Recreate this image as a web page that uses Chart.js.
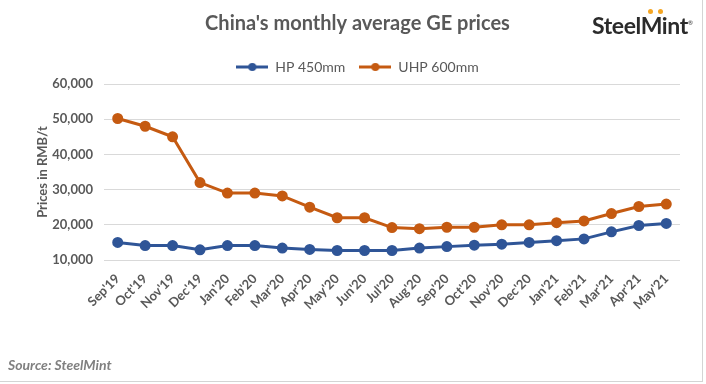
<!DOCTYPE html>
<html>
<head>
<meta charset="utf-8">
<script src="https://cdn.jsdelivr.net/npm/chart.js@4.4.0/dist/chart.umd.min.js"></script>
<style>
  body { margin: 0; background: #fff; }
  #wrap { position: relative; width: 706px; height: 384px; }
  #frame { position: absolute; left: 0; top: 0; width: 702px; height: 381px;
           border-right: 1px solid #d4d4d4; border-bottom: 1px solid #d4d4d4; }
  #logo { position: absolute; left: 592px; top: 11px; font-family: Lato, sans-serif;
          font-weight: bold; font-size: 23px; color: #2b2b2b; letter-spacing: -0.4px; }
  #logo .dot { position: absolute; top: -2px; width: 5px; height: 5px; border-radius: 50%; background: #f5a623; }
  #logo sup { font-size: 6px; font-weight: normal; }
  #source { position: absolute; left: 8px; top: 356px; font-family: Lato, sans-serif;
            font-style: italic; font-weight: bold; font-size: 14px; color: #808080; }
</style>
</head>
<body>
<div id="wrap">
  <div id="frame"></div>
  <canvas id="chart" width="706" height="384"></canvas>
  <div id="logo">SteelMint<sup>®</sup><span class="dot" style="left:56px"></span><span class="dot" style="left:66px"></span></div>
  <div id="source">Source: SteelMint</div>
</div>
<script>
const months = ["Sep'19", "Oct'19", "Nov'19", "Dec'19", "Jan'20", "Feb'20", "Mar'20", "Apr'20",
  "May'20", "Jun'20", "Jul'20", "Aug'20", "Sep'20", "Oct'20", "Nov'20", "Dec'20",
  "Jan'21", "Feb'21", "Mar'21", "Apr'21", "May'21"];
const hp450 = [15000, 14100, 14100, 12900, 14100, 14100, 13400, 13000, 12700, 12700, 12700,
  13400, 13800, 14200, 14500, 15000, 15500, 16000, 18000, 19800, 20400];
const uhp600 = [50200, 48000, 45000, 32000, 29000, 29000, 28200, 25000, 22000, 22000, 19200,
  18900, 19300, 19300, 20000, 20000, 20600, 21100, 23200, 25200, 25900];
const yTicks = [10000, 20000, 30000, 40000, 50000, 60000];

const blue = '#2f5597';
const orange = '#c55a11';
const grey = '#595959';

// little line+dot swatch for the legend, excel style
function swatch(color) {
  const c = document.createElement('canvas');
  c.width = 32; c.height = 10;
  const g = c.getContext('2d');
  g.strokeStyle = color; g.lineWidth = 3;
  g.beginPath(); g.moveTo(0, 5); g.lineTo(32, 5); g.stroke();
  g.fillStyle = color;
  g.beginPath(); g.arc(16, 5, 4, 0, Math.PI * 2); g.fill();
  return c;
}

Chart.defaults.font.family = 'Lato, sans-serif';
Chart.defaults.color = grey;

const ctx = document.getElementById('chart');
const myChart = new Chart(ctx, {
  type: 'line',
  data: {
    labels: months,
    datasets: [
      {
        label: 'HP 450mm',
        data: hp450,
        borderColor: blue,
        backgroundColor: blue,
        borderWidth: 3,
        pointRadius: 4,
        pointStyle: 'circle',
        legendStyle: swatch(blue),
        tension: 0
      },
      {
        label: 'UHP 600mm',
        data: uhp600,
        borderColor: orange,
        backgroundColor: orange,
        borderWidth: 3,
        pointRadius: 4,
        legendStyle: swatch(orange),
        tension: 0
      }
    ]
  },
  options: {
    responsive: false,
    animation: false,
    layout: { padding: { left: 35, right: 26, top: 0, bottom: 69 } },
    plugins: {
      title: {
        display: true,
        text: "China's monthly average GE prices",
        color: grey,
        font: { size: 20, weight: 'bold' },
        padding: { top: 12, bottom: 10 }
      },
      legend: {
        display: true,
        labels: {
          usePointStyle: true,
          pointStyleWidth: 32,
          color: grey,
          font: { size: 14 },
          padding: 14,
          generateLabels: (chart) => chart.data.datasets.map((ds, i) => ({
            text: ds.label,
            pointStyle: ds.legendStyle,
            fontColor: grey,
            datasetIndex: i,
            hidden: false,
            lineWidth: 0
          }))
        }
      },
      tooltip: { enabled: false }
    },
    scales: {
      x: {
        offset: true,
        grid: { display: false },
        border: { display: false },
        ticks: {
          autoSkip: false,
          maxRotation: 45,
          minRotation: 45,
          padding: 3,
          color: grey,
          font: { size: 13, weight: 'bold' }
        },
        afterFit: (s) => { s.height = 55; }
      },
      y: {
        min: yTicks[0],
        max: yTicks[yTicks.length - 1],
        ticks: {
          stepSize: 10000,
          padding: 11,
          color: grey,
          font: { size: 13, weight: 'bold' },
          callback: (v) => v.toLocaleString('en-US')
        },
        grid: { color: '#d9d9d9', drawTicks: false, lineWidth: 1 },
        border: { display: false },
        title: {
          display: true,
          text: 'Prices in RMB/t',
          color: grey,
          font: { size: 13, weight: 'bold' },
          padding: 0
        },
        afterFit: (s) => { s.width = 69; }
      }
    }
  }
});
</script>
</body>
</html>
